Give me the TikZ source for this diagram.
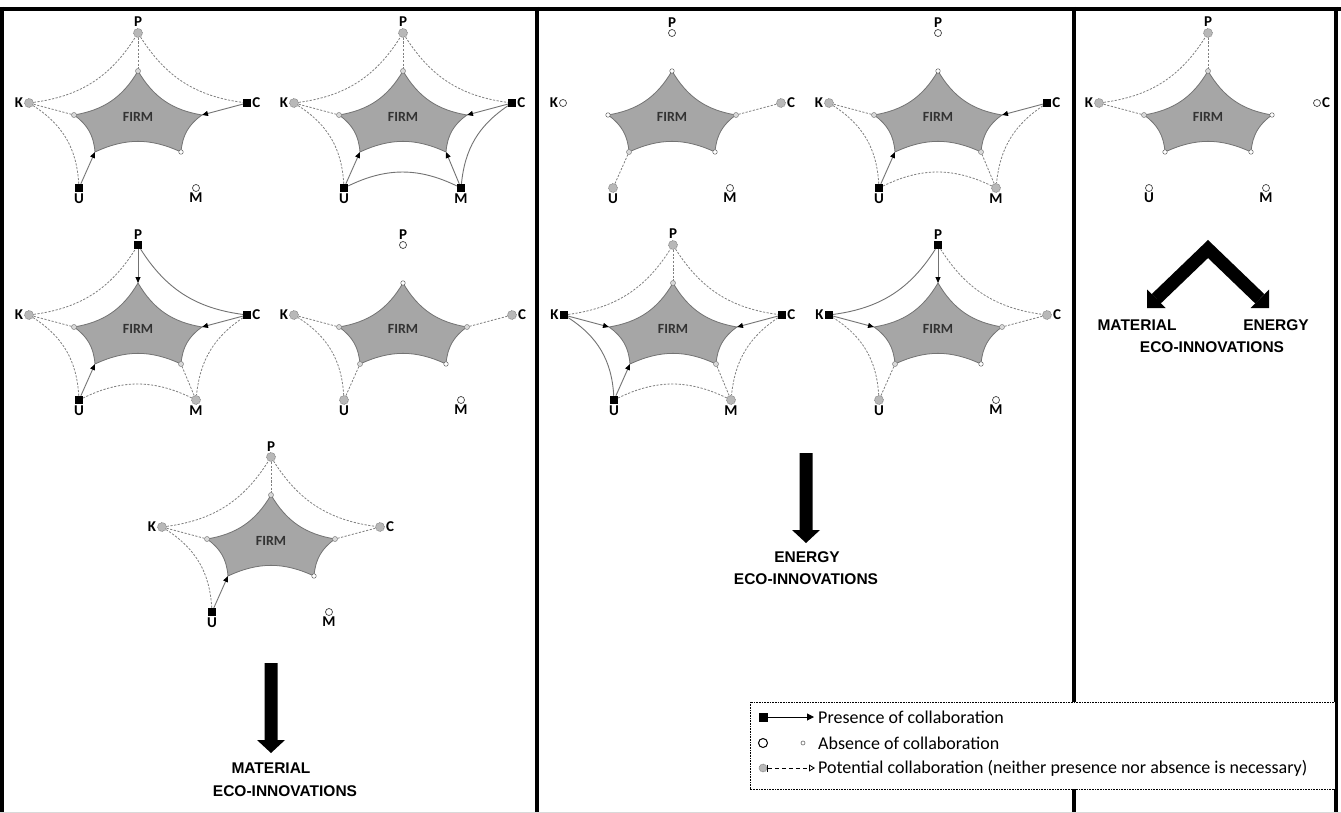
\documentclass[tikz,border=0pt]{standalone}
\usepackage{fontspec}
\setmainfont{Carlito}
\newfontfamily\headfont{Liberation Sans}
\usetikzlibrary{arrows.meta}
\tikzset{
  firmshape/.style={fill=black!35, draw=black!55, line width=0.8pt},
  firmtext/.style={font=\bfseries\fontsize{14}{14}\selectfont, text=black!80, inner sep=0pt},
  lab/.style={font=\bfseries\fontsize{15}{15}\selectfont, inner sep=1pt},
  outerS/.style={rectangle, fill=black, minimum size=8pt, inner sep=0pt},
  outerA/.style={circle, draw=black!75, fill=white, line width=0.7pt, minimum size=7pt, inner sep=0pt},
  outerX/.style={circle, draw=black!50, fill=black!28, line width=0.6pt, dash pattern=on 1pt off 0.7pt, minimum size=9pt, inner sep=0pt},
  vertS/.style={inner sep=0pt, minimum size=0pt},
  vertA/.style={circle, draw=black!60, fill=white, line width=0.5pt, minimum size=4.5pt, inner sep=0pt},
  vertX/.style={circle, draw=black!50, fill=black!15, line width=0.5pt, minimum size=5pt, inner sep=0pt},
  solidline/.style={draw=black!55, line width=0.9pt},
  dashline/.style={draw=black!50, line width=0.8pt, dash pattern=on 2.2pt off 1.5pt},
  noline/.style={draw=none},
  radS/.style={solidline, -{Triangle[length=6pt,width=5pt,black]}},
  radX/.style={dashline},
  radA/.style={noline},
  curveSS/.style={solidline},
  curveSX/.style={dashline}, curveXS/.style={dashline}, curveXX/.style={dashline},
  curveSA/.style={noline}, curveAS/.style={noline}, curveXA/.style={noline},
  curveAX/.style={noline}, curveAA/.style={noline},
  frameline/.style={draw=black, line width=4pt},
  bigtext/.style={font=\headfont\bfseries\fontsize{15.5}{15.5}\selectfont, inner sep=0pt},
  bigarrow/.style={fill=black},
  legtext/.style={font=\fontsize{18}{18}\selectfont, anchor=west, inner sep=0pt},
  legbox/.style={draw=black, fill=white, line width=0.8pt, dash pattern=on 0.8pt off 0.8pt}
}
\newcommand\firmdiagram[7]{%
 \begin{scope}[shift={#2}]
  \coordinate (#1-t) at (0,-44);
  \coordinate (#1-r) at (64,0);
  \coordinate (#1-br) at (43,37);
  \coordinate (#1-bl) at (-43,37);
  \coordinate (#1-l) at (-64,0);
  \path[firmshape] (#1-t) to[bend right=25] (#1-r) to[bend right=25] (#1-br)
     to[bend right=25] (#1-bl) to[bend right=25] (#1-l) to[bend right=25] (#1-t) -- cycle;
  \node[firmtext] (#1-firm) at (0,2) {FIRM};
  \node[outer#3, label={[lab]above:P}] (#1-P) at (0,-82) {};
  \node[outer#4, label={[lab]left:K}] (#1-K) at (-109,-12) {};
  \node[outer#5, label={[lab]right:C}] (#1-C) at (109,-12) {};
  \node[outer#6, label={[lab]below:U}] (#1-U) at (-59,73) {};
  \node[outer#7, label={[lab]below:M}] (#1-M) at (58,73) {};
  \draw[curve#3#5] (#1-P) to[bend right=25] (#1-C);
  \draw[curve#5#7] (#1-C) to[bend right=25] (#1-M);
  \draw[curve#7#6] (#1-M) to[bend right=26] (#1-U);
  \draw[curve#6#4] (#1-U) to[bend right=27] (#1-K);
  \draw[curve#4#3] (#1-K) to[bend right=25] (#1-P);
  \draw[rad#3] (#1-P) -- (#1-t);
  \draw[rad#4] (#1-K) -- (#1-l);
  \draw[rad#5] (#1-C) -- (#1-r);
  \draw[rad#6] (#1-U) -- (#1-bl);
  \draw[rad#7] (#1-M) -- (#1-br);
  \node[vert#3] at (#1-t) {};
  \node[vert#4] at (#1-l) {};
  \node[vert#5] at (#1-r) {};
  \node[vert#6] at (#1-bl) {};
  \node[vert#7] at (#1-br) {};
 \end{scope}}
\begin{document}
\begin{tikzpicture}[x=1pt,y=-1pt]
\useasboundingbox (0,0) rectangle (1341,813);
\fill[white] (0,0) rectangle (1341,813);
% frame
\draw[frameline] (0,9) -- (1341,9);
\draw[frameline] (2,7) -- (2,813);
\draw[frameline] (537,7) -- (537,813);
\draw[frameline] (1074,7) -- (1074,702);
\draw[frameline] (1074,789) -- (1074,813);
\draw[frameline] (1336,7) -- (1336,813);
\draw[black!15, line width=0.8pt] (0,812) -- (1341,812);
% column 1
\firmdiagram{s1}{(138,115)}{X}{X}{S}{S}{A}
\firmdiagram{s2}{(403,115)}{X}{X}{S}{S}{S}
\firmdiagram{s3}{(138,327)}{S}{X}{S}{S}{X}
\firmdiagram{s4}{(403,327)}{A}{X}{X}{X}{A}
\firmdiagram{s5}{(271,539)}{X}{X}{X}{S}{A}
% column 2
\firmdiagram{s6}{(672,115)}{A}{A}{X}{X}{A}
\firmdiagram{s7}{(938,115)}{A}{X}{S}{S}{X}
\firmdiagram{s8}{(673,327)}{X}{S}{S}{S}{X}
\firmdiagram{s9}{(938,327)}{S}{S}{X}{X}{A}
% column 3
\firmdiagram{s10}{(1208,115)}{X}{X}{A}{A}{A}
% block arrows and results
\fill[bigarrow] (264.5,663) -- (277.5,663) -- (277.5,740) -- (285,740) -- (271,753)
   -- (257,740) -- (264.5,740) -- cycle;
\node[bigtext] (mat1) at (271,768) {MATERIAL};
\node[bigtext] (eco1) at (285,791) {ECO-INNOVATIONS};
\fill[bigarrow] (799.5,453) -- (812.5,453) -- (812.5,530) -- (820,530) -- (806,543)
   -- (792,530) -- (799.5,530) -- cycle;
\node[bigtext] (ene2) at (807,557) {ENERGY};
\node[bigtext] (eco2) at (806,579) {ECO-INNOVATIONS};
\draw[black, line width=13pt, line join=miter] (1156.25,298.75) -- (1208,249) -- (1259.75,298.75);
\fill[bigarrow] (1147,308) -- (1147,289.5) -- (1165.5,308) -- cycle;
\fill[bigarrow] (1269,308) -- (1269,289.5) -- (1250.5,308) -- cycle;
\node[bigtext] (mat3) at (1137,325) {MATERIAL};
\node[bigtext] (ene3) at (1276,325) {ENERGY};
\node[bigtext] (eco3) at (1212,347) {ECO-INNOVATIONS};
% legend
\draw[legbox] (750,702) rectangle (1335,789);
\node[outerS, minimum size=9pt] (l1a) at (763,717) {};
\coordinate (l1b) at (814,717);
\draw[black, line width=1pt, -{Triangle[length=7pt,width=7pt]}] (l1a) -- (l1b);
\node[legtext] (l1t) at (818,717) {Presence of collaboration};
\node[circle, draw=black, line width=1pt, fill=white, minimum size=9pt, inner sep=0pt] (l2a) at (763,743) {};
\node[circle, draw=black!60, line width=0.6pt, minimum size=4pt, inner sep=0pt] (l2b) at (803,743) {};
\node[legtext] (l2t) at (818,743) {Absence of collaboration};
\node[outerX, minimum size=8pt] (l3a) at (763,768) {};
\coordinate (l3b) at (815,768);
\draw[black, line width=0.9pt, dash pattern=on 4pt off 3pt, {Bar[width=7pt]}-{Triangle[open,length=6pt,width=7pt]}] (l3a) -- (l3b);
\node[legtext] (l3t) at (818,768) {Potential collaboration (neither presence nor absence is necessary)};
\end{tikzpicture}
\end{document}
